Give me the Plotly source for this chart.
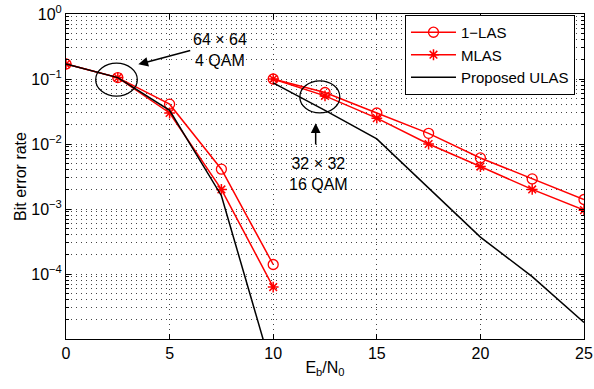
import plotly.graph_objects as go

# ---- data ----
snr_g1 = [0, 2.5, 5, 7.5, 10]            # 64x64, 4-QAM
las1_g1 = [0.17, 0.105, 0.041, 0.0041, 1.4e-4]
mlas_g1 = [0.17, 0.105, 0.030, 0.0020, 6.3e-5]
ulas_g1 = [0.17, 0.105, 0.033, 0.0016, 2.9e-6]

snr_g2 = [10, 12.5, 15, 17.5, 20, 22.5, 25]  # 32x32, 16-QAM
las1_g2 = [0.1, 0.062, 0.030, 0.0146, 0.0061, 0.0029, 0.0014]
mlas_g2 = [0.1, 0.055, 0.025, 0.0100, 0.0045, 0.0020, 0.00096]
ulas_g2 = [0.087, 0.033, 0.012, 0.0021, 3.7e-4, 9.1e-5, 1.8e-5]

x_ticks = [0, 5, 10, 15, 20, 25]
y_ticks = [1, 0.1, 0.01, 0.001, 1e-4]
y_ticktext = ["10<sup>0</sup>", "10<sup>−1</sup>", "10<sup>−2</sup>",
              "10<sup>−3</sup>", "10<sup>−4</sup>"]

FONT = "Liberation Sans, Arial, Helvetica, sans-serif"
FS = 16
RED = "#ff0000"
GRID = "#444"
GDASH = "1px,4px"

fig = go.Figure()

series = [
    ("1−LAS", las1_g1, las1_g2, RED, dict(symbol="circle-open", size=10, color=RED, line=dict(width=1.3, color=RED)), "lines+markers"),
    ("MLAS", mlas_g1, mlas_g2, RED, dict(symbol="asterisk-open", size=9, color=RED, line=dict(width=1.5, color=RED)), "lines+markers"),
    ("Proposed ULAS", ulas_g1, ulas_g2, "black", None, "lines"),
]

for name, g1, g2, col, mk, mode in series:
    for i, (xs, ys) in enumerate([(snr_g1, g1), (snr_g2, g2)]):
        kw = dict(x=xs, y=ys, mode=mode, name=name, legendgroup=name,
                  showlegend=(i == 0), line=dict(color=col, width=1.5))
        if mk is not None:
            kw["marker"] = mk
        fig.add_trace(go.Scatter(**kw))

minor_vals = [m * 10 ** e for e in range(-5, 0) for m in range(2, 10)]

fig.update_xaxes(
    range=[0, 25], tickvals=x_ticks, ticks="inside", ticklen=5,
    tickcolor="black", showline=True, linecolor="black", linewidth=1,
    mirror="allticks", showgrid=True, gridcolor=GRID, griddash=GDASH,
    gridwidth=1, zeroline=False, automargin=False,
    tickfont=dict(family=FONT, size=FS, color="black"),
    title=dict(text="E<sub>b</sub>/N<sub>0</sub>",
               font=dict(family=FONT, size=FS, color="black"), standoff=0),
)
fig.update_yaxes(
    type="log", range=[-5, 0], tickmode="array", tickvals=y_ticks,
    ticktext=y_ticktext, ticks="inside", ticklen=5, tickcolor="black",
    showline=True, linecolor="black", linewidth=1, mirror="allticks",
    showgrid=True, gridcolor=GRID, griddash=GDASH, gridwidth=1,
    zeroline=False, automargin=False,
    minor=dict(tickmode="array", tickvals=minor_vals, ticks="inside",
               ticklen=3, tickcolor="black", showgrid=True,
               gridcolor=GRID, griddash=GDASH, gridwidth=1),
    tickfont=dict(family=FONT, size=FS, color="black"),
    title=dict(text="Bit error rate",
               font=dict(family=FONT, size=FS, color="black"), standoff=0),
)

# ellipses
for cx, cy, w, h in [(0.0975, 0.798, 41.6, 33), (0.490, 0.745, 40, 32)]:
    fig.add_shape(type="circle", xref="x domain", yref="y domain",
                  xsizemode="pixel", ysizemode="pixel", xanchor=cx, yanchor=cy,
                  x0=-w / 2, x1=w / 2, y0=-h / 2, y1=h / 2,
                  line=dict(color="black", width=1.3))

# arrows
fig.add_annotation(xref="x domain", yref="y domain", x=0.1396, y=0.845,
                   ax=53.4, ay=-14.3, text="", showarrow=True, arrowhead=2,
                   arrowsize=1.3, arrowwidth=1.5, arrowcolor="black")
fig.add_annotation(xref="x domain", yref="y domain", x=0.482, y=0.6637,
                   ax=0, ay=22.7, text="", showarrow=True, arrowhead=2,
                   arrowsize=1.3, arrowwidth=1.5, arrowcolor="black")
# labels
fig.add_annotation(xref="x domain", yref="y domain", x=0.297, y=0.889,
                   xanchor="center", yanchor="middle",
                   text="64 × 64<br>4 QAM", showarrow=False,
                   font=dict(family=FONT, size=FS, color="black"))
fig.add_annotation(xref="x domain", yref="y domain", x=0.4865, y=0.509,
                   xanchor="center", yanchor="middle",
                   text="32 × 32<br>16 QAM", showarrow=False,
                   font=dict(family=FONT, size=FS, color="black"))

fig.update_layout(
    width=594, height=389,
    margin=dict(l=66, r=10, t=14, b=50),
    paper_bgcolor="white", plot_bgcolor="white",
    showlegend=True,
    legend=dict(x=0.9826, y=0.997, xanchor="right", yanchor="top",
                bgcolor="white", bordercolor="black", borderwidth=1,
                font=dict(family=FONT, size=15, color="black"),
                tracegroupgap=0, itemwidth=45),
)

fig.write_html("out.html", config={"displayModeBar": False},
               post_script="document.body.style.margin='0';document.body.style.overflow='hidden';")
